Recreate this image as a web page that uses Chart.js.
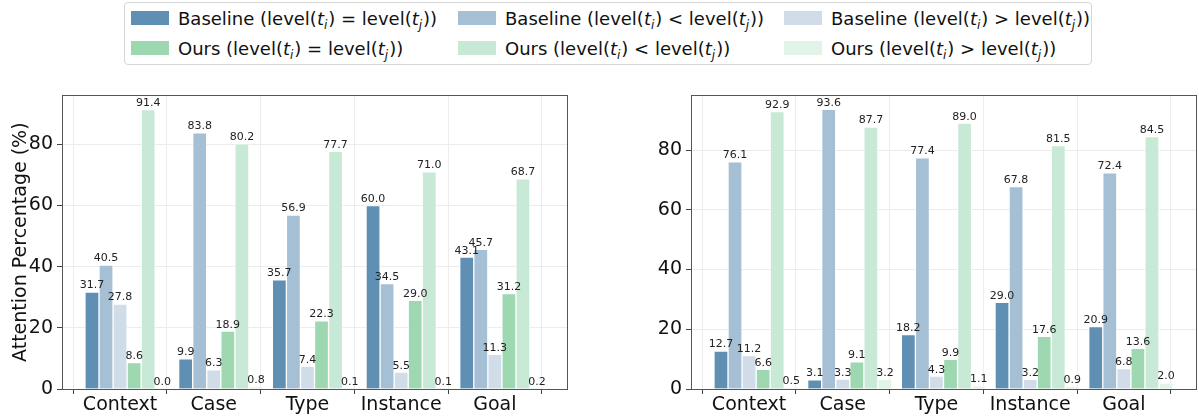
<!DOCTYPE html>
<html>
<head>
<meta charset="utf-8">
<script src="https://cdn.jsdelivr.net/npm/chart.js@4.4.1/dist/chart.umd.min.js"></script>
<style>
body { margin: 0; background: #fff; width: 1199px; height: 417px; position: relative; overflow: hidden; font-family: "DejaVu Sans", sans-serif; }
#legend { position: absolute; left: 124px; top: 2px; width: 968px; height: 63px; border: 1px solid #d6d6d6; border-radius: 4px; box-sizing: border-box; }
.item { position: absolute; font-size: 18px; color: #111; white-space: nowrap; line-height: 20px; }
.item span.patch { position: absolute; left: 0; top: 2px; width: 38px; height: 14px; }
.item span.txt { position: absolute; left: 47px; top: 0; }
sub { font-size: 12px; vertical-align: -4px; line-height: 0; font-style: italic; margin-right: 1px; }
#c1wrap { position: absolute; left: 0; top: 80px; width: 580px; height: 337px; }
#c2wrap { position: absolute; left: 620px; top: 80px; width: 579px; height: 337px; }
</style>
</head>
<body>
<div id="legend"></div>
<div id="c1wrap"><canvas id="chart1"></canvas></div>
<div id="c2wrap"><canvas id="chart2"></canvas></div>
<script>
var categories = ['Context', 'Case', 'Type', 'Instance', 'Goal'];

var seriesNames = ['Baseline', 'Baseline', 'Baseline', 'Ours', 'Ours', 'Ours'];
var seriesRelations = ['=', '<', '>', '=', '<', '>'];

// left panel
var leftBaseEq = [31.7, 9.9, 35.7, 60.0, 43.1];
var leftBaseLt = [40.5, 83.8, 56.9, 34.5, 45.7];
var leftBaseGt = [27.8, 6.3, 7.4, 5.5, 11.3];
var leftOursEq = [8.6, 18.9, 22.3, 29.0, 31.2];
var leftOursLt = [91.4, 80.2, 77.7, 71.0, 68.7];
var leftOursGt = [0.0, 0.8, 0.1, 0.1, 0.2];

// right panel
var rightBaseEq = [12.7, 3.1, 18.2, 29.0, 20.9];
var rightBaseLt = [76.1, 93.6, 77.4, 67.8, 72.4];
var rightBaseGt = [11.2, 3.3, 4.3, 3.2, 6.8];
var rightOursEq = [6.6, 9.1, 9.9, 17.6, 13.6];
var rightOursLt = [92.9, 87.7, 89.0, 81.5, 84.5];
var rightOursGt = [0.5, 3.2, 1.1, 0.9, 2.0];

var yTicks = [0, 20, 40, 60, 80];

//bar colors
var colors = ['#5f8fb3', '#a5bfd4', '#d0dde8', '#9dd8b1', '#c8e9d6', '#e2f4e8'];

var barW = 0.15;

// html legend, 3 columns x 2 rows
var legendPos = [[6, 6], [333, 6], [659, 6], [6, 36], [333, 36], [659, 36]];
var legendEl = document.getElementById('legend');
for (var i = 0; i < seriesNames.length; i++) {
    var d = document.createElement('div');
    d.className = 'item';
    d.style.left = legendPos[i][0] + 'px';
    d.style.top = legendPos[i][1] + 'px';
    d.innerHTML = '<span class="patch" style="background:' + colors[i] + '"></span>' +
        '<span class="txt">' + seriesNames[i] + ' (level(<i>t</i><sub>i</sub>) ' +
        (seriesRelations[i] == '<' ? '&lt;' : seriesRelations[i] == '>' ? '&gt;' : '=') +
        ' level(<i>t</i><sub>j</sub>))</span>';
    legendEl.appendChild(d);
}

var frameAndLabels = {
    id: 'frameAndLabels',
    afterDatasetsDraw: function(chart) {
        var ctx = chart.ctx;
        ctx.save();
        ctx.font = '11px "DejaVu Sans"';
        ctx.fillStyle = '#222';
        ctx.textAlign = 'center';
        ctx.textBaseline = 'bottom';
        chart.data.datasets.forEach(function(ds, k) {
            var meta = chart.getDatasetMeta(k);
            meta.data.forEach(function(bar, j) {
                ctx.fillText(ds.data[j].y.toFixed(1), bar.x, bar.y - 1);
            });
        });
        var a = chart.chartArea;
        ctx.strokeStyle = '#555';
        ctx.lineWidth = 1;
        ctx.strokeRect(Math.round(a.left) + 0.5, Math.round(a.top) + 0.5,
            Math.round(a.right - a.left), Math.round(a.bottom - a.top));
        ctx.restore();
    }
};

function makeChart(id, series, yMax, yAxisWidth, padRight, showTitle) {
    var datasets = [];
    for (var k = 0; k < series.length; k++) {
        datasets.push({
            data: series[k].map(function(v, i) { return {x: i + (k - 2) * barW, y: v}; }),
            backgroundColor: colors[k],
            borderColor: 'rgba(255,255,255,0.7)',
            borderWidth: 1,
            grouped: false,
            categoryPercentage: 1,
            barPercentage: 1
        });
    }
    return new Chart(document.getElementById(id), {
        type: 'bar',
        data: { datasets: datasets },
        options: {
            responsive: false,
            animation: false,
            layout: { padding: { top: 12, right: padRight, left: 0, bottom: 0 } },
            plugins: { legend: { display: false }, tooltip: { enabled: false } },
            scales: {
                x: {
                    type: 'linear',
                    offset: false,
                    min: -0.62,
                    max: 4.77,
                    afterBuildTicks: function(axis) {
                        axis.ticks = categories.map(function(c, i) { return {value: i}; });
                    },
                    afterFit: function(axis) { axis.height = 28; },
                    ticks: {
                        autoSkip: false,
                        maxRotation: 0,
                        padding: 0,
                        color: '#111',
                        font: { family: 'DejaVu Sans', size: 19 },
                        callback: function(v) { return categories[v]; }
                    },
                    grid: { color: '#ececec', tickColor: '#444', tickLength: 5 },
                    border: { color: '#555' }
                },
                y: {
                    min: 0,
                    max: yMax,
                    afterBuildTicks: function(axis) {
                        axis.ticks = yTicks.map(function(v) { return {value: v}; });
                    },
                    afterFit: function(axis) { axis.width = yAxisWidth; },
                    ticks: {
                        padding: 4,
                        color: '#111',
                        font: { family: 'DejaVu Sans', size: 19 }
                    },
                    grid: { color: '#ececec', tickColor: '#444', tickLength: 5 },
                    border: { color: '#555' },
                    title: {
                        display: showTitle,
                        text: 'Attention Percentage (%)',
                        color: '#111',
                        padding: { top: 10, bottom: 0 },
                        font: { family: 'DejaVu Sans', size: 19 }
                    }
                }
            }
        },
        plugins: [frameAndLabels]
    });
}

var c1 = document.getElementById('chart1'); c1.width = 580; c1.height = 337;
var c2 = document.getElementById('chart2'); c2.width = 579; c2.height = 337;

makeChart('chart1', [leftBaseEq, leftBaseLt, leftBaseGt, leftOursEq, leftOursLt, leftOursGt], 96.0, 62, 13, true);
makeChart('chart2', [rightBaseEq, rightBaseLt, rightBaseGt, rightOursEq, rightOursLt, rightOursGt], 98.3, 71, 3, false);
</script>
</body>
</html>
